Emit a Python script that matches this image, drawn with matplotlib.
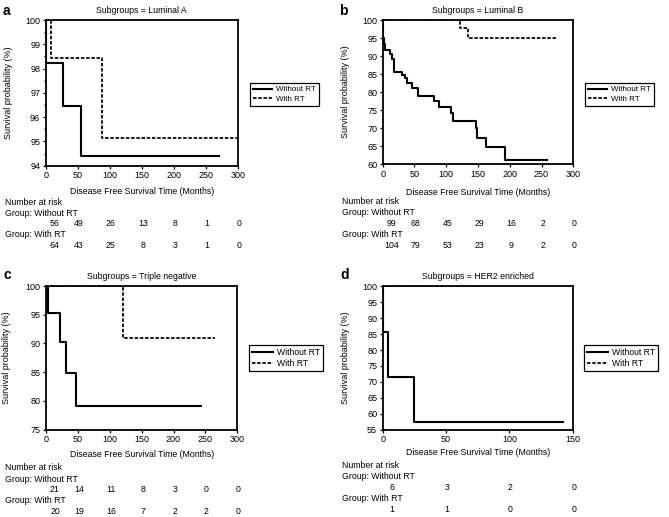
import matplotlib
matplotlib.use('Agg')
import matplotlib.pyplot as plt
from matplotlib.ticker import MultipleLocator

plt.rcParams['font.family'] = ['Liberation Sans', 'DejaVu Sans']

# survival curves (months, %)
a_without_t = [0, 0, 27.5, 54.5, 270]
a_without_s = [100, 98.24, 96.47, 94.40, 94.40]
a_with_t = [0, 7.8, 88.7, 300]
a_with_s = [100, 98.42, 95.16, 95.16]

b_without_t = [0, 0.7, 1.5, 3, 12, 15, 18, 30, 35, 38, 46, 56, 80, 89,
               107.5, 110, 147, 148, 163, 193, 258]
b_without_s = [100, 95.0, 93.4, 91.7, 90.5, 89.3, 85.6, 84.7, 83.8, 82.4,
               81.2, 78.9, 77.5, 75.9, 74.1, 72.0, 69.9, 67.3, 64.8, 61.1, 61.1]
b_with_t = [0, 121, 134, 272]
b_with_s = [100, 97.9, 95.1, 95.1]

c_without_t = [0, 2.6, 22, 31.4, 47, 243]
c_without_s = [100, 95.3, 90.26, 84.86, 79.2, 79.2]
c_with_t = [0, 121.3, 265]
c_with_s = [100, 90.95, 90.95]

d_without_t = [0, 0, 4.5, 25, 142]
d_without_s = [100, 85.77, 71.5, 57.3, 57.3]
d_with_t = [0, 80]
d_with_s = [100, 100]

# number at risk
risk_times_long = [0, 50, 100, 150, 200, 250, 300]
risk_times_short = [0, 50, 100, 150]
a_risk_without = [56, 49, 26, 13, 8, 1, 0]
a_risk_with = [64, 43, 25, 8, 3, 1, 0]
b_risk_without = [99, 68, 45, 29, 16, 2, 0]
b_risk_with = [104, 79, 53, 23, 9, 2, 0]
c_risk_without = [21, 14, 11, 8, 3, 0, 0]
c_risk_with = [20, 19, 16, 7, 2, 2, 0]
d_risk_without = [6, 3, 2, 0]
d_risk_with = [1, 1, 0, 0]

W, H = 669, 517
fig = plt.figure(figsize=(W / 100, H / 100), dpi=100)


def fx(x):
    return x / W


def fy(y):
    return 1 - y / H


FS = 6.5

panels = [
    dict(label='a', title='Subgroups = Luminal A', box=(45.7, 20, 237.7, 165.7),
         t1=a_without_t, s1=a_without_s, t2=a_with_t, s2=a_with_s,
         xlim=(0, 300), xstep=50, ylim=(94, 100), ystep=1, minor=0.5,
         rt=risk_times_long, r1=a_risk_without, r2=a_risk_with,
         lab=(3, 11), ylab_x=8.3, xlab_y=191.7,
         rows=[202.7, 213.3, 224, 234.3, 245.7], txt_x=5,
         leg=(250, 83, 5.8)),
    dict(label='b', title='Subgroups = Luminal B', box=(382.7, 20, 573.3, 164),
         t1=b_without_t, s1=b_without_s, t2=b_with_t, s2=b_with_s,
         xlim=(0, 300), xstep=50, ylim=(60, 100), ystep=5, minor=None,
         rt=risk_times_long, r1=b_risk_without, r2=b_risk_with,
         lab=(339, 11), ylab_x=345.7, xlab_y=192.7,
         rows=[201.7, 212.3, 224, 234.3, 245.7], txt_x=342,
         leg=(585, 83, 5.8)),
    dict(label='c', title='Subgroups = Triple negative', box=(46, 286, 237.3, 429.7),
         t1=c_without_t, s1=c_without_s, t2=c_with_t, s2=c_with_s,
         xlim=(0, 300), xstep=50, ylim=(75, 100), ystep=5, minor=None,
         rt=risk_times_long, r1=c_risk_without, r2=c_risk_with,
         lab=(4, 275), ylab_x=7, xlab_y=454.7,
         rows=[467.3, 479, 489.7, 500.7, 511.3], txt_x=5,
         leg=(249, 345, 6.2)),
    dict(label='d', title='Subgroups = HER2 enriched', box=(382.7, 286.3, 572.7, 429.7),
         t1=d_without_t, s1=d_without_s, t2=d_with_t, s2=d_with_s,
         xlim=(0, 150), xstep=50, ylim=(55, 100), ystep=5, minor=None,
         rt=risk_times_short, r1=d_risk_without, r2=d_risk_with,
         lab=(340, 275), ylab_x=345.7, xlab_y=452.3,
         rows=[465.7, 476.3, 488, 498.7, 509.7], txt_x=342,
         leg=(584, 345, 6.2)),
]

for p in panels:
    x0, y0, x1, y1 = p['box']
    ax = fig.add_axes([fx(x0), fy(y1), fx(x1 - x0), (y1 - y0) / H])
    l1, = ax.step(p['t1'], p['s1'], where='post', color='black', lw=1.5,
                  label='Without RT')
    l2, = ax.step(p['t2'], p['s2'], where='post', color='black', lw=1.25,
                  ls=(0, (2, 1)), label='With RT')
    ax.set_xlim(*p['xlim'])
    ax.set_ylim(*p['ylim'])
    ax.xaxis.set_major_locator(MultipleLocator(p['xstep']))
    ax.yaxis.set_major_locator(MultipleLocator(p['ystep']))
    if p['minor']:
        ax.yaxis.set_minor_locator(MultipleLocator(p['minor']))
    ax.tick_params(which='major', direction='out', length=2.5, width=0.9,
                   labelsize=FS, pad=1.5, colors='black')
    ax.tick_params(which='minor', direction='out', length=1.5, width=0.9)
    for s in ax.spines.values():
        s.set_linewidth(1.3)
    ax.set_title(p['title'], fontsize=6.3, pad=5)

    fig.text(fx(p['lab'][0]), fy(p['lab'][1]), p['label'], fontsize=10,
             fontweight='bold', ha='left', va='center')
    fig.text(fx(p['ylab_x']), fy((y0 + y1) / 2), 'Survival probability (%)',
             rotation=90, fontsize=FS, ha='center', va='center')
    fig.text(fx((x0 + x1) / 2), fy(p['xlab_y']),
             'Disease Free Survival Time (Months)', fontsize=6.3,
             ha='center', va='center')

    lx, ly, lfs = p['leg']
    ax.legend(handles=[l1, l2], loc='upper left',
              bbox_to_anchor=(fx(lx), fy(ly)), bbox_transform=fig.transFigure,
              borderaxespad=0, fontsize=lfs, frameon=True, fancybox=False,
              edgecolor='black', framealpha=1, handlelength=2.4,
              handletextpad=0.5, labelspacing=0.2, borderpad=0.35)
    ax.get_legend().get_frame().set_linewidth(0.9)

    rows = p['rows']
    fig.text(fx(p['txt_x']), fy(rows[0]), 'Number at risk', fontsize=6.3,
             ha='left', va='center')
    fig.text(fx(p['txt_x']), fy(rows[1]), 'Group: Without RT', fontsize=6.3,
             ha='left', va='center')
    fig.text(fx(p['txt_x']), fy(rows[3]), 'Group: With RT', fontsize=6.3,
             ha='left', va='center')
    for vals, ry in [(p['r1'], rows[2]), (p['r2'], rows[4])]:
        for i, (t, v) in enumerate(zip(p['rt'], vals)):
            off = 6.5 if i == 0 else 0.8
            ax.annotate(str(v), xy=(t, fy(ry)), xycoords=('data', 'figure fraction'),
                        xytext=(off, 0), textcoords='offset points',
                        fontsize=6.3, ha='center', va='center',
                        annotation_clip=False)

fig.savefig('out.png', dpi=100)
